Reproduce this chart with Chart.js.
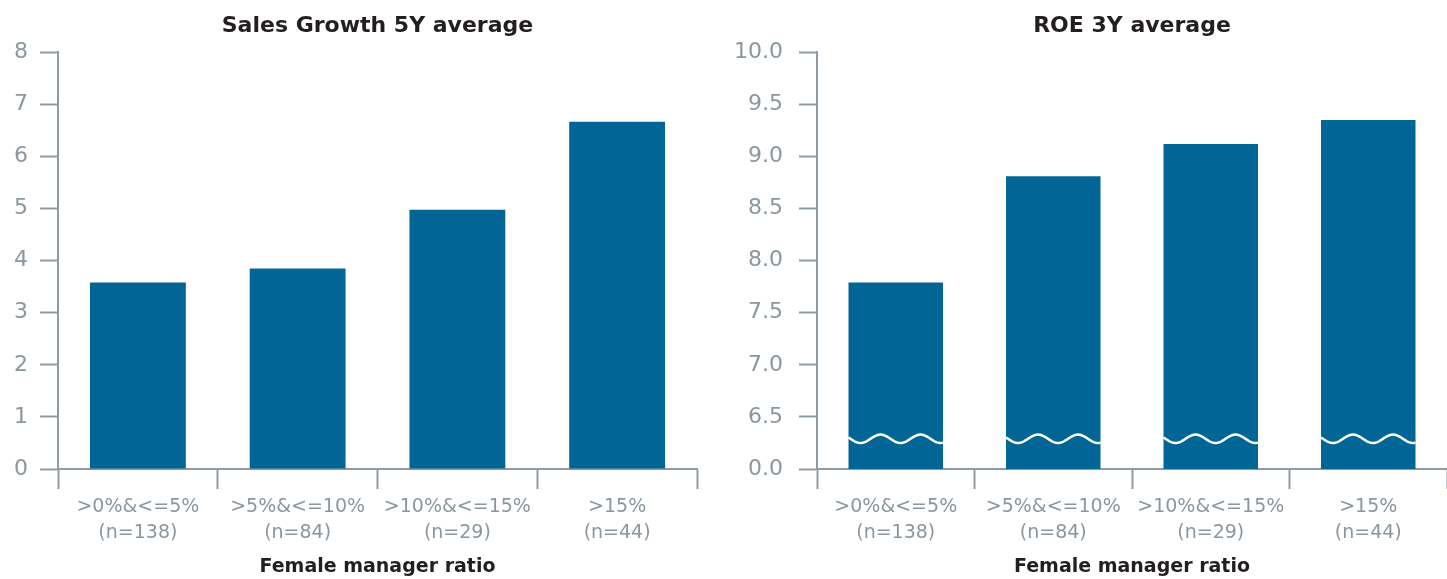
<!DOCTYPE html>
<html>
<head>
<meta charset="utf-8">
<script src="https://cdn.jsdelivr.net/npm/chart.js@4/dist/chart.umd.min.js"></script>
<style>
  html, body { margin: 0; padding: 0; background: #fff; }
  #wrap { position: relative; width: 1447px; height: 579px; overflow: hidden; }
  canvas { position: absolute; top: 0; }
  #left { left: 0; }
  #right { left: 720px; }
</style>
</head>
<body>
<div id="wrap">
  <canvas id="left" width="720" height="579"></canvas>
  <canvas id="right" width="727" height="579"></canvas>
</div>
<script>
// Female manager ratio groups (two-line labels)
const categories = [
  ['>0%&<=5%', '(n=138)'],
  ['>5%&<=10%', '(n=84)'],
  ['>10%&<=15%', '(n=29)'],
  ['>15%', '(n=44)']
];
const salesGrowth5Y = [3.58, 3.85, 4.98, 6.67];
const roe3Y = [7.79, 8.81, 9.12, 9.35];

const salesTitle = 'Sales Growth 5Y average';
const roeTitle = 'ROE 3Y average';
const xTitle = 'Female manager ratio';

// ROE axis is broken: the bottom step stands for zero
const roeAxisMin = 6.0;
const roeAxisMax = 10.0;
const roeBreakValue = 6.29;

const BAR = '#016595';
const AXIS = '#8e9ba5';
const TICK_TEXT = '#8a979f';
const TITLE = '#231f20';
const FONT = "'DejaVu Sans', sans-serif";

Chart.defaults.font.family = FONT;
Chart.defaults.animation = false;

// Wavy white stroke across each bar marking the axis break
const breakMarks = {
  id: 'breakMarks',
  afterDatasetsDraw(chart, args, opts) {
    if (opts.value == null) return;
    const y = chart.scales.y.getPixelForValue(opts.value);
    const ctx = chart.ctx;
    ctx.save();
    ctx.strokeStyle = '#ffffff';
    ctx.lineWidth = 2.5;
    ctx.lineCap = 'butt';
    chart.getDatasetMeta(0).data.forEach(bar => {
      const x0 = bar.x - bar.width / 2;
      const x1 = bar.x + bar.width / 2;
      ctx.beginPath();
      for (let x = x0; x <= x1 + 0.01; x += 0.5) {
        const xx = Math.min(x, x1);
        const yy = y + opts.amplitude * Math.sin(2 * Math.PI * (xx - x0 - 2) / opts.period);
        if (x === x0) ctx.moveTo(xx, yy); else ctx.lineTo(xx, yy);
      }
      ctx.stroke();
    });
    ctx.restore();
  }
};

function makeChart(canvasId, title, values, yOpts, axisWidth, padRight, breakOpts) {
  return new Chart(document.getElementById(canvasId), {
    type: 'bar',
    data: {
      labels: categories,
      datasets: [{
        data: values,
        backgroundColor: BAR,
        borderWidth: 0,
        barPercentage: 0.6,
        categoryPercentage: 1.0
      }]
    },
    plugins: [breakMarks],
    options: {
      responsive: false,
      animation: false,
      layout: { padding: { left: 0, right: padRight, top: 0, bottom: 0 } },
      plugins: {
        legend: { display: false },
        tooltip: { enabled: false },
        title: {
          display: true,
          text: title,
          fullSize: false,
          color: TITLE,
          font: { family: FONT, size: 22, weight: 'bold', lineHeight: 1.2 },
          padding: { top: 13, bottom: 13 }
        },
        breakMarks: breakOpts
      },
      scales: {
        x: {
          grid: {
            offset: true,
            drawOnChartArea: false,
            drawTicks: true,
            tickLength: 20,
            tickWidth: 2,
            tickColor: AXIS,
            color: AXIS
          },
          border: { display: true, color: AXIS, width: 2 },
          ticks: {
            color: TICK_TEXT,
            font: { family: FONT, size: 19, lineHeight: 1.32 },
            padding: 6,
            maxRotation: 0,
            autoSkip: false
          },
          title: {
            display: true,
            text: xTitle,
            color: TITLE,
            font: { family: FONT, size: 19, weight: 'bold', lineHeight: 1.2 },
            padding: { top: 0, bottom: 1 }
          },
          afterFit(s) { s.height = 110; }
        },
        y: Object.assign({
          grid: {
            drawOnChartArea: false,
            drawTicks: true,
            tickLength: 18,
            tickWidth: 2,
            tickColor: AXIS,
            color: AXIS
          },
          border: { display: true, color: AXIS, width: 2 },
          afterFit(s) { s.width = axisWidth; }
        }, yOpts)
      }
    }
  });
}

makeChart('left', salesTitle, salesGrowth5Y, {
  min: 0,
  max: 8,
  ticks: {
    stepSize: 1,
    color: TICK_TEXT,
    padding: 12,
    font: { family: FONT, size: 22 }
  }
}, 58, 23, { value: null });

makeChart('right', roeTitle, roe3Y, {
  min: roeAxisMin,
  max: roeAxisMax,
  ticks: {
    stepSize: 0.5,
    color: TICK_TEXT,
    padding: 16,
    font: { family: FONT, size: 22 },
    callback: v => (v === roeAxisMin ? '0.0' : Number(v).toFixed(1))
  }
}, 97, 0, { value: roeBreakValue, amplitude: 4.2, period: 40 });
</script>
</body>
</html>
